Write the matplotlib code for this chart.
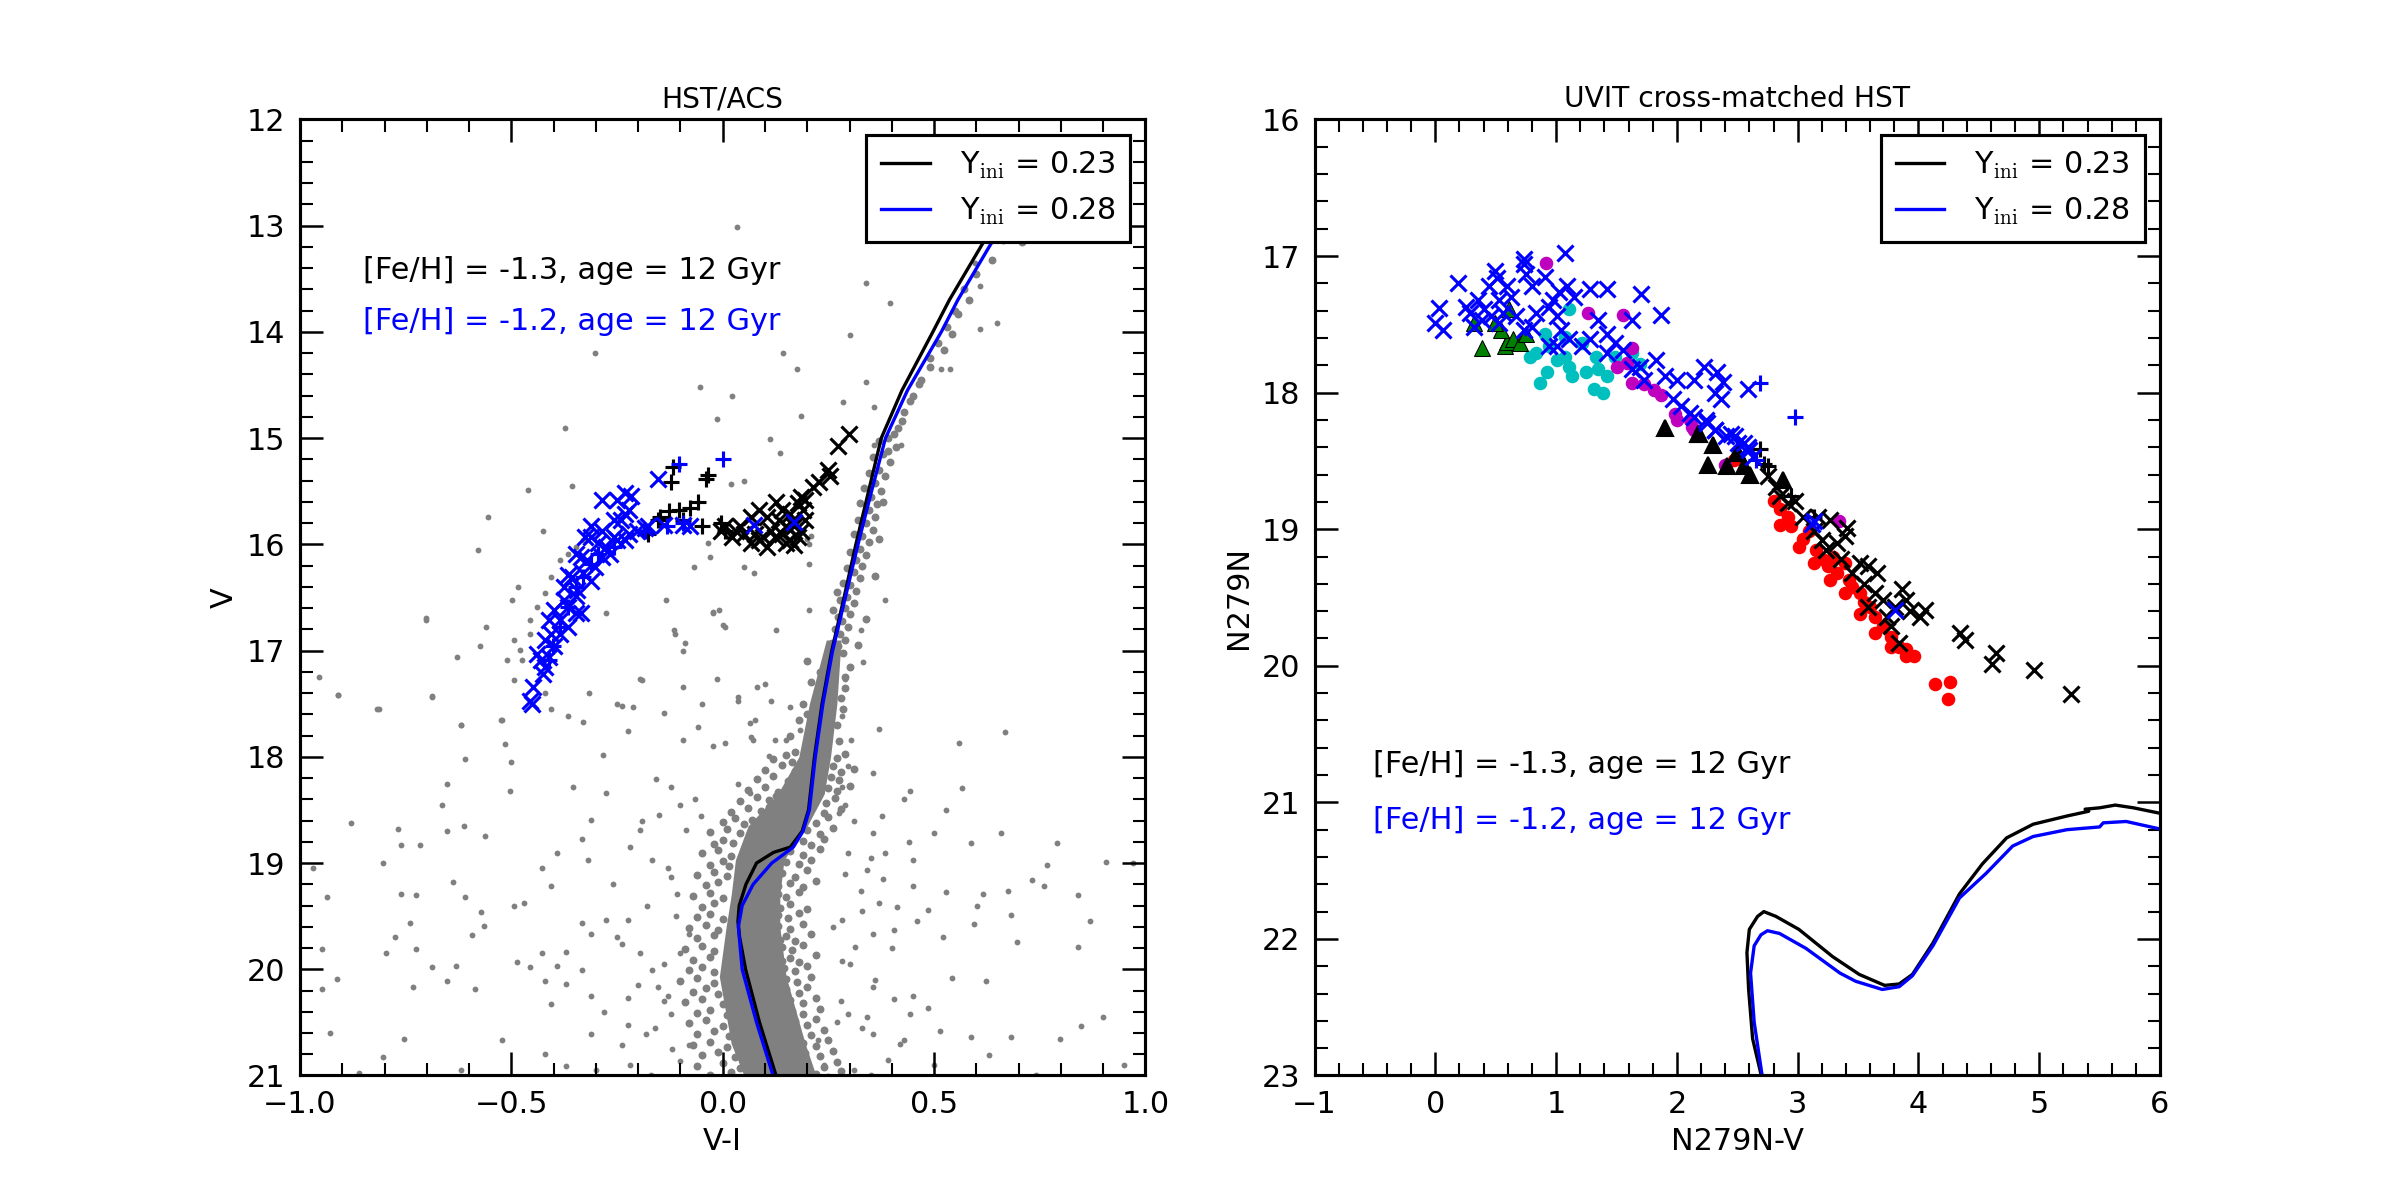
import matplotlib
matplotlib.use('Agg')
import matplotlib.pyplot as plt
import numpy as np

# ---------------- left panel: HST/ACS CMD (V-I, V) ----------------
iso_k_left = [(0.13, 21.05), (0.087, 20.5), (0.054, 20.0), (0.04, 19.7), (0.036, 19.55), (0.039, 19.4),
              (0.055, 19.2), (0.08, 19.0), (0.12, 18.9), (0.16, 18.85), (0.188, 18.7), (0.203, 18.5),
              (0.217, 18.0), (0.235, 17.5), (0.258, 17.0), (0.287, 16.5), (0.315, 16.0), (0.345, 15.5),
              (0.375, 15.0), (0.424, 14.55), (0.497, 14.0), (0.536, 13.7), (0.616, 13.16), (0.68, 12.85),
              (0.75, 12.5)]
iso_b_left = [(0.123, 21.05), (0.08, 20.5), (0.046, 20.0), (0.037, 19.6), (0.046, 19.4), (0.072, 19.2),
              (0.116, 19.0), (0.167, 18.85), (0.19, 18.7), (0.205, 18.5), (0.219, 18.0), (0.237, 17.5),
              (0.26, 17.0), (0.29, 16.5), (0.32, 16.0), (0.352, 15.5), (0.385, 15.0), (0.437, 14.55),
              (0.517, 14.0), (0.556, 13.7), (0.636, 13.16), (0.67, 13.1), (0.75, 12.9)]

# densest part of the cluster sequence (V, blue edge, red edge)
core_v = [16.9, 17.5, 18.0, 18.35, 18.65, 18.97, 19.3, 19.6, 20.07, 20.7, 21.05]
core_lo = [0.245, 0.205, 0.18, 0.13, 0.06, 0.03, 0.02, 0.008, -0.008, 0.02, 0.055]
core_hi = [0.28, 0.27, 0.255, 0.24, 0.2, 0.145, 0.135, 0.135, 0.15, 0.195, 0.225]

field_stars = [
    (-0.703, 16.69), (-0.909, 17.42), (-0.688, 17.43), (-0.819, 17.55), (-0.619, 17.7), (-0.522, 17.65),
    (-0.514, 17.88), (-0.609, 18.02), (-0.5, 18.05), (-0.652, 18.26), (-0.504, 18.32), (-0.665, 18.45),
    (-0.768, 18.68), (-0.613, 18.65), (-0.652, 18.7), (-0.562, 18.75), (-0.761, 18.83), (-0.717, 18.83),
    (-0.804, 19.0), (-0.638, 19.18), (-0.609, 19.32), (-0.761, 19.29), (-0.725, 19.3), (-0.935, 19.32),
    (-0.572, 19.46), (-0.493, 19.4), (-0.739, 19.56), (-0.565, 19.59), (-0.471, 19.38), (-0.406, 19.22),
    (-0.428, 19.05), (-0.391, 18.91), (-0.319, 18.97), (-0.333, 18.77), (-0.275, 18.34), (-0.355, 18.28),
    (-0.312, 18.59), (-0.775, 19.7), (-0.594, 19.68), (-0.797, 19.85), (-0.725, 19.81), (-0.949, 19.81),
    (-0.688, 19.98), (-0.63, 19.97), (-0.913, 20.09), (-0.732, 20.17), (-0.652, 20.11), (-0.949, 20.19),
    (-0.587, 20.19), (-0.486, 19.93), (-0.457, 19.98), (-0.428, 19.85), (-0.391, 19.97), (-0.37, 19.84),
    (-0.42, 20.11), (-0.333, 20.01), (-0.333, 19.56), (-0.275, 19.54), (-0.312, 19.67), (-0.225, 19.54),
    (-0.239, 19.76), (-0.196, 19.85), (-0.167, 20.01), (-0.152, 20.17), (-0.138, 20.3), (-0.225, 20.27),
    (-0.312, 20.25), (-0.37, 20.14), (-0.406, 20.33), (-0.312, 20.61), (-0.522, 20.67), (-0.754, 20.66),
    (-0.804, 20.83), (-0.42, 20.8), (-0.37, 20.91), (-0.239, 20.71), (-0.225, 20.52), (-0.123, 20.42),
    (-0.181, 20.61), (-0.101, 20.86), (-0.08, 20.71), (-0.101, 19.85), (-0.08, 19.67), (-0.109, 19.29),
    (-0.123, 19.13), (-0.167, 18.97), (-0.196, 18.69), (-0.159, 18.21), (-0.123, 18.28), (-0.094, 17.84),
    (-0.022, 17.9), (-0.065, 18.4), (-0.051, 18.56), (-0.087, 18.69), (-0.283, 17.98), (-0.225, 17.76),
    (-0.239, 17.52), (-0.196, 17.27), (-0.014, 17.27), (-0.116, 16.81), (0.0, 16.76), (-0.022, 16.64),
    (0.036, 17.44), (0.065, 17.68), (0.072, 17.84), (0.036, 18.26), (0.109, 17.99), (0.065, 18.34),
    (0.138, 18.4), (0.37, 17.74), (0.667, 17.77), (0.558, 17.87), (0.355, 18.15), (0.442, 18.32),
    (0.565, 18.29), (0.529, 18.5), (0.428, 18.4), (0.377, 18.56), (0.5, 18.72), (0.659, 18.72),
    (0.587, 18.81), (0.79, 18.81), (0.768, 19.02), (0.906, 18.99), (0.971, 19.0), (0.732, 19.16),
    (0.761, 19.22), (0.841, 19.3), (0.674, 19.26), (0.616, 19.29), (0.529, 19.27), (0.449, 19.22),
    (0.449, 18.97), (0.384, 18.91), (0.37, 19.38), (0.413, 19.41), (0.486, 19.44), (0.601, 19.4),
    (0.681, 19.49), (0.594, 19.57), (0.522, 19.7), (0.406, 19.63), (0.355, 19.67), (0.696, 19.74),
    (0.841, 19.79), (0.623, 20.11), (0.543, 20.08), (0.486, 20.36), (0.355, 20.17), (0.406, 20.28),
    (0.587, 20.64), (0.681, 20.64), (0.797, 20.66), (0.848, 20.53), (0.63, 20.81), (0.428, 20.67),
    (0.355, 20.61), (0.341, 20.45), (0.297, 20.42), (0.442, 20.42), (0.514, 20.58), (0.225, 20.67),
    (0.283, 19.92), (0.312, 19.79), (0.283, 19.54), (0.326, 19.26), (0.341, 19.07), (0.297, 18.91),
    (0.355, 18.72), (0.275, 18.53), (0.283, 18.28), (0.297, 18.09), (0.304, 17.84), (0.283, 17.62),
    (0.333, 17.11), (0.326, 16.81), (0.29, 17.27),
    (0.033, 13.01), (0.34, 13.54), (0.395, 13.73), (-0.302, 14.2), (0.142, 14.2), (0.302, 14.03),
    (0.609, 13.97), (0.649, 13.92), (0.609, 13.57), (0.596, 13.35), (0.175, 14.35), (-0.053, 14.52),
    (0.023, 14.6), (-0.013, 14.82), (-0.373, 14.9), (0.338, 14.47), (0.358, 14.71), (0.517, 14.35),
    (0.537, 14.35), (0.285, 14.66), (0.185, 14.79), (0.113, 15.01), (0.358, 15.06), (0.421, 15.06),
    (-0.357, 15.45), (-0.461, 15.49), (-0.556, 15.74), (-0.425, 15.87), (-0.579, 16.05),
    (0.136, 15.14), (0.019, 15.43), (0.05, 15.4), (-0.036, 15.99), (-0.067, 16.21), (-0.031, 16.12),
    (0.05, 16.21), (0.073, 16.27), (0.204, 16.18), (0.385, 16.52), (-0.022, 16.65), (-0.009, 16.62),
    (0.005, 16.78), (-0.113, 16.84), (-0.09, 16.93), (-0.135, 16.52), (-0.276, 16.65), (-0.484, 16.4),
    (-0.498, 16.52), (-0.561, 16.78), (-0.701, 16.71), (-0.629, 17.06), (-0.574, 16.96), (-0.511, 17.09),
    (-0.493, 17.28), (-0.955, 17.25), (-0.909, 17.42), (-0.814, 17.55), (-0.688, 17.44), (-0.62, 17.7),
    (-0.525, 17.65), (-0.407, 17.55), (-0.366, 17.62), (-0.33, 17.67), (-0.249, 17.5), (-0.212, 17.53),
    (-0.316, 17.4), (-0.42, 17.4), (-0.19, 17.28), (-0.095, 17.0), (0.127, 16.81), (0.204, 16.62),
    (0.082, 17.34), (0.1, 17.31), (0.114, 17.47), (0.159, 17.53), (-0.049, 17.5), (0.037, 17.47),
    (-0.095, 17.34), (-0.14, 17.59), (0.077, 17.65), (0.068, 17.81), (0.123, 17.84), (0.15, 17.84),
    (0.182, 17.75), (-0.058, 17.72), (0.005, 17.87), (-0.88, 18.62), (-0.93, 20.6), (-0.86, 20.98),
    (0.9, 20.45), (0.95, 20.9), (0.74, 21.0), (-0.97, 19.05), (-0.62, 20.95), (0.87, 19.55),
    (-0.493, 16.9), (-0.479, 16.99), (-0.457, 16.71), (-0.439, 16.59), (-0.42, 16.46), (-0.407, 16.31),
    (-0.384, 16.15), (-0.366, 16.09), (-0.348, 16.02), (-0.33, 15.96), (-0.457, 16.84), (-0.475, 17.09),
    (0.2, 15.95), (0.21, 15.92), (0.205, 16.0),
    (-0.15, 18.55), (-0.22, 18.85), (-0.13, 19.05), (-0.18, 19.4), (-0.25, 19.7), (-0.14, 19.95),
    (-0.2, 20.15), (-0.28, 20.4), (-0.16, 20.55), (-0.12, 20.75), (-0.22, 20.9), (-0.3, 20.95),
    (-0.17, 21.0), (-0.11, 19.5), (-0.13, 20.25), (-0.26, 19.2), (-0.19, 18.6), (-0.1, 18.45),
    (0.31, 18.6), (0.35, 18.95), (0.29, 19.1), (0.33, 19.45), (0.4, 19.8), (0.3, 19.95),
    (0.36, 20.1), (0.45, 20.25), (0.28, 20.3), (0.33, 20.55), (0.39, 20.85), (0.31, 20.95),
    (0.42, 20.7), (0.5, 20.9), (0.46, 19.55), (0.38, 19.15), (0.44, 18.8), (0.27, 20.5),
    (0.26, 19.6), (0.29, 18.45), (0.24, 20.9), (0.35, 21.0),
]

# stars hugging the cluster sequence
sequence_stars = [
    (0.636, 13.32), (0.662, 13.13), (0.583, 13.7), (0.556, 13.83), (0.543, 14.02), (0.523, 14.17),
    (0.49, 14.33), (0.464, 14.49), (0.444, 14.65), (0.424, 14.84), (0.404, 14.96), (0.391, 15.12),
    (0.709, 13.15), (0.689, 13.01), (0.6, 13.45), (0.57, 13.6), (0.55, 13.8), (0.53, 13.95),
    (0.51, 14.1), (0.49, 14.25), (0.47, 14.45), (0.45, 14.6), (0.43, 14.75), (0.415, 14.9),
    (0.39, 15.0), (0.41, 15.08), (0.38, 15.15), (0.395, 15.22), (0.37, 15.3), (0.385, 15.36),
    (0.36, 15.42), (0.375, 15.5), (0.35, 15.55), (0.365, 15.62), (0.345, 15.68), (0.36, 15.74),
    (0.34, 15.8), (0.355, 15.86), (0.33, 15.92), (0.345, 15.98), (0.325, 16.04), (0.34, 16.1),
    (0.315, 16.15), (0.33, 16.2), (0.31, 16.26), (0.325, 16.32), (0.3, 16.38), (0.315, 16.44),
    (0.295, 16.5), (0.31, 16.55), (0.29, 16.6), (0.3, 16.66), (0.283, 16.72), (0.296, 16.78),
    (0.278, 16.84), (0.29, 16.9), (0.272, 16.96), (0.285, 17.02), (0.262, 16.62), (0.27, 16.45),
    (0.37, 15.03), (0.355, 15.18), (0.345, 15.33), (0.335, 15.47), (0.325, 15.61), (0.32, 15.77),
    (0.31, 15.9), (0.3, 16.07), (0.295, 16.22), (0.285, 16.36), (0.278, 16.52), (0.272, 16.68),
    (0.265, 16.8), (0.258, 16.93), (0.25, 17.05), (0.38, 15.6), (0.37, 15.95), (0.36, 16.3),
    (0.34, 16.7), (0.32, 16.95),
    (0.2, 17.1), (0.3, 17.15), (0.21, 17.3), (0.29, 17.35), (0.19, 17.5), (0.285, 17.55),
    (0.18, 17.65), (0.27, 17.7), (0.16, 17.8), (0.275, 17.85), (0.17, 17.95), (0.23, 17.2),
    (0.22, 17.45), (0.2, 17.6), (0.29, 17.25), (0.28, 17.45),
    (0.12, 18.02), (0.15, 17.98), (0.165, 18.05), (0.27, 18.01), (0.29, 17.97),
    (0.1, 18.12), (0.14, 18.08), (0.17, 18.13), (0.26, 18.09), (0.28, 18.14), (0.31, 18.11),
    (0.08, 18.21), (0.12, 18.18), (0.155, 18.23), (0.255, 18.19), (0.275, 18.22),
    (0.06, 18.31), (0.1, 18.28), (0.13, 18.33), (0.25, 18.29), (0.27, 18.32), (0.3, 18.27),
    (0.04, 18.42), (0.08, 18.38), (0.11, 18.41), (0.125, 18.37), (0.245, 18.43), (0.265, 18.39),
    (0.02, 18.52), (0.06, 18.48), (0.09, 18.51), (0.11, 18.47), (0.24, 18.53), (0.28, 18.49),
    (0.0, 18.61), (0.03, 18.58), (0.05, 18.63), (0.07, 18.59), (0.22, 18.62), (0.25, 18.57),
    (-0.03, 18.71), (0.01, 18.68), (0.04, 18.72), (0.2, 18.69), (0.23, 18.73), (0.26, 18.67),
    (-0.02, 18.82), (0.0, 18.78), (0.025, 18.81), (0.19, 18.79), (0.21, 18.83), (0.24, 18.77),
    (-0.05, 18.91), (-0.01, 18.88), (0.02, 18.93), (0.16, 18.89), (0.19, 18.92), (0.23, 18.87),
    (-0.03, 19.02), (0.0, 18.98), (0.015, 19.03), (0.15, 18.99), (0.18, 19.01), (0.21, 18.97),
    (-0.06, 19.11), (-0.02, 19.08), (0.01, 19.12), (0.14, 19.09), (0.17, 19.13), (0.2, 19.07),
    (-0.04, 19.21), (-0.01, 19.18), (0.13, 19.22), (0.16, 19.19), (0.19, 19.23), (0.22, 19.17),
    (-0.07, 19.31), (-0.03, 19.28), (0.0, 19.33), (0.13, 19.29), (0.15, 19.32), (0.18, 19.27),
    (-0.05, 19.41), (-0.02, 19.38), (0.135, 19.42), (0.16, 19.39), (0.2, 19.43),
    (-0.06, 19.51), (-0.03, 19.48), (0.0, 19.53), (0.13, 19.49), (0.155, 19.52), (0.18, 19.47),
    (-0.08, 19.61), (-0.04, 19.58), (-0.01, 19.63), (0.13, 19.59), (0.16, 19.62), (0.19, 19.57),
    (-0.06, 19.71), (-0.02, 19.68), (0.135, 19.72), (0.15, 19.69), (0.17, 19.73), (0.21, 19.67),
    (-0.09, 19.81), (-0.05, 19.78), (-0.02, 19.83), (0.14, 19.79), (0.165, 19.82), (0.19, 19.77),
    (-0.07, 19.91), (-0.03, 19.88), (0.14, 19.92), (0.16, 19.89), (0.18, 19.93), (0.22, 19.87),
    (-0.08, 20.01), (-0.05, 19.98), (-0.02, 20.03), (0.145, 19.99), (0.17, 20.02), (0.2, 19.97),
    (-0.1, 20.11), (-0.06, 20.08), (-0.02, 20.13), (0.15, 20.09), (0.175, 20.12), (0.21, 20.07),
    (-0.07, 20.21), (-0.04, 20.18), (-0.01, 20.23), (0.15, 20.19), (0.18, 20.22), (0.2, 20.17),
    (-0.09, 20.31), (-0.05, 20.28), (0.0, 20.33), (0.16, 20.29), (0.19, 20.32), (0.22, 20.27),
    (-0.06, 20.41), (-0.03, 20.38), (0.01, 20.43), (0.165, 20.39), (0.19, 20.42), (0.23, 20.37),
    (-0.08, 20.51), (-0.04, 20.48), (0.0, 20.53), (0.17, 20.49), (0.2, 20.52), (0.22, 20.47),
    (-0.06, 20.61), (-0.02, 20.58), (0.015, 20.63), (0.175, 20.59), (0.21, 20.62), (0.24, 20.57),
    (-0.07, 20.71), (-0.03, 20.68), (0.01, 20.73), (0.19, 20.69), (0.22, 20.72), (0.25, 20.67),
    (-0.05, 20.81), (-0.01, 20.78), (0.03, 20.83), (0.195, 20.79), (0.23, 20.82), (0.26, 20.77),
    (-0.06, 20.91), (0.0, 20.88), (0.04, 20.93), (0.2, 20.89), (0.24, 20.92), (0.27, 20.87),
    (-0.03, 21.0), (0.02, 20.97), (0.05, 21.02), (0.22, 20.99), (0.25, 21.01), (0.28, 20.96),
]

hb_blue_x = [
    (-0.452, 17.5), (-0.457, 17.47), (-0.448, 17.34), (-0.425, 17.22), (-0.42, 17.15), (-0.439, 17.03),
    (-0.41, 17.06), (-0.4, 16.96), (-0.407, 16.84), (-0.384, 16.84), (-0.366, 16.78), (-0.398, 16.62),
    (-0.366, 16.59), (-0.348, 16.65), (-0.335, 16.65), (-0.375, 16.4), (-0.357, 16.31), (-0.344, 16.43),
    (-0.33, 16.27), (-0.312, 16.34), (-0.366, 16.29), (-0.321, 16.15), (-0.303, 16.21), (-0.285, 16.12),
    (-0.335, 16.12), (-0.276, 16.02), (-0.312, 15.93), (-0.325, 15.93), (-0.258, 15.93), (-0.23, 15.96),
    (-0.221, 15.9), (-0.312, 15.83), (-0.285, 15.87), (-0.258, 15.77), (-0.24, 15.77), (-0.23, 15.71),
    (-0.221, 15.68), (-0.285, 15.58), (-0.249, 15.58), (-0.23, 15.52), (-0.217, 15.54), (-0.153, 15.38),
    (-0.203, 15.87), (-0.185, 15.85), (-0.176, 15.83), (-0.14, 15.82), (-0.095, 15.82), (-0.077, 15.83),
    (0.073, 15.82), (0.168, 15.79), (-0.348, 16.09), (-0.294, 15.99), (-0.249, 15.96), (-0.267, 16.09),
    (-0.375, 16.52), (-0.384, 16.71), (-0.41, 16.71), (-0.42, 16.9), (-0.43, 17.09), (-0.348, 16.49),
]
hb_blue_plus = [
    (-0.104, 15.24), (0.0, 15.2), (-0.294, 16.09), (-0.258, 16.02), (-0.185, 15.87), (-0.131, 15.83),
    (-0.095, 15.8), (-0.33, 16.31), (-0.312, 16.18), (-0.348, 16.4), (-0.366, 16.59), (-0.384, 16.78),
    (-0.402, 16.96), (-0.411, 17.09),
]
hb_black_plus = [
    (-0.117, 15.27), (-0.122, 15.41), (-0.04, 15.38), (-0.036, 15.35), (-0.058, 15.6), (-0.077, 15.66),
    (-0.104, 15.68), (-0.126, 15.69), (-0.149, 15.74), (-0.153, 15.77), (-0.176, 15.9), (-0.095, 15.77),
    (-0.05, 15.83), (-0.004, 15.8), (0.005, 15.87),
]
hb_black_x = [
    (0.023, 15.93), (0.041, 15.83), (0.068, 15.74), (0.086, 15.68), (0.105, 15.74), (0.127, 15.6),
    (0.141, 15.68), (0.159, 15.71), (0.177, 15.61), (0.186, 15.55), (0.195, 15.58), (0.19, 15.68),
    (0.086, 15.96), (0.105, 16.02), (0.123, 15.93), (0.141, 15.9), (0.159, 15.96), (0.177, 15.93),
    (0.186, 15.87), (0.195, 15.77), (0.168, 15.83), (0.15, 15.83), (0.132, 15.77), (0.114, 15.87),
    (0.077, 15.9), (0.05, 15.9), (0.032, 15.87), (0.005, 15.83), (-0.004, 15.87), (0.213, 15.46),
    (0.227, 15.41), (0.249, 15.3), (0.254, 15.36), (0.272, 15.07), (0.299, 14.96), (0.15, 15.99),
    (0.168, 16.01), (0.068, 15.99), (0.095, 15.93),
]

# ---------------- right panel: UVIT x HST (N279N-V, N279N) ----------------
iso_k_right = [(2.696, 22.99), (2.627, 22.73), (2.594, 22.37), (2.58, 22.1), (2.6, 21.93), (2.668, 21.835),
               (2.72, 21.8), (2.82, 21.835), (3.01, 21.93), (3.29, 22.13), (3.51, 22.26), (3.72, 22.34),
               (3.84, 22.33), (3.95, 22.26), (4.12, 22.03), (4.34, 21.67), (4.53, 21.45), (4.73, 21.26),
               (4.95, 21.16), (5.23, 21.1), (5.41, 21.065), (5.38, 21.05), (5.5, 21.04), (5.63, 21.02),
               (5.78, 21.04), (6.0, 21.08)]
iso_b_right = [(2.704, 22.99), (2.64, 22.61), (2.61, 22.25), (2.64, 22.05), (2.696, 21.97), (2.75, 21.94),
               (2.85, 21.96), (3.07, 22.07), (3.35, 22.25), (3.48, 22.31), (3.7, 22.37), (3.84, 22.35),
               (3.95, 22.27), (4.12, 22.05), (4.34, 21.7), (4.56, 21.52), (4.78, 21.32), (4.95, 21.25),
               (5.23, 21.2), (5.5, 21.18), (5.53, 21.15), (5.72, 21.14), (6.0, 21.195)]

uv_red = [
    (2.805, 18.79), (2.852, 18.85), (2.852, 18.97), (2.916, 18.91), (2.947, 18.98), (3.042, 19.07),
    (3.09, 19.01), (3.153, 19.15), (3.201, 19.22), (3.248, 19.27), (3.296, 19.2), (3.327, 19.32),
    (3.391, 19.25), (3.423, 19.37), (3.454, 19.42), (3.518, 19.47), (3.549, 19.53), (3.597, 19.57),
    (3.644, 19.64), (3.708, 19.71), (3.771, 19.79), (3.835, 19.86), (3.898, 19.93), (3.961, 19.93),
    (3.898, 19.88), (4.135, 20.13), (4.262, 20.12), (4.246, 20.24), (3.137, 19.25), (3.264, 19.37),
    (3.391, 19.47), (3.518, 19.62), (3.644, 19.76), (3.771, 19.86), (3.011, 19.13), (2.472, 18.49),
    (2.409, 18.54),
]
uv_cyan = [
    (0.785, 17.74), (0.87, 17.93), (0.922, 17.85), (1.008, 17.76), (1.076, 17.74), (1.11, 17.81),
    (1.128, 17.88), (1.248, 17.85), (1.316, 17.97), (1.385, 18.0), (1.334, 17.74), (1.351, 17.83),
    (1.42, 17.88), (1.214, 17.64), (1.11, 17.39), (1.076, 17.59), (0.939, 17.66), (1.488, 17.74),
    (1.625, 17.71), (1.694, 17.79), (0.905, 17.57), (0.836, 17.71),
]
uv_magenta = [
    (0.915, 17.05), (1.265, 17.42), (1.557, 17.43), (1.625, 17.67), (1.505, 17.81), (1.59, 17.78),
    (1.625, 17.93), (1.728, 17.94), (1.814, 17.98), (1.866, 18.02), (1.986, 18.16), (2.106, 18.2),
    (2.14, 18.27), (2.397, 18.53), (3.341, 18.94), (1.997, 18.2), (2.123, 18.25),
]
uv_green_tri = [
    (0.39, 17.675), (0.579, 17.66), (0.596, 17.63), (0.647, 17.61), (0.544, 17.54), (0.493, 17.49),
    (0.321, 17.49), (0.699, 17.64), (0.75, 17.57), (0.613, 17.39),
]
uv_black_tri = [
    (1.9, 18.26), (2.174, 18.3), (2.295, 18.38), (2.26, 18.53), (2.415, 18.54), (2.5, 18.44),
    (2.552, 18.54), (2.603, 18.6), (2.878, 18.64), (2.187, 18.3), (2.504, 18.44),
]
uv_black_x = [
    (5.267, 20.21), (4.959, 20.03), (4.611, 19.99), (4.643, 19.91), (4.389, 19.81), (4.342, 19.76),
    (4.056, 19.59), (4.009, 19.64), (3.93, 19.6), (3.866, 19.44), (3.835, 19.83), (3.771, 19.71),
    (3.708, 19.52), (3.66, 19.32), (3.581, 19.27), (3.549, 19.4), (3.644, 19.47), (3.454, 19.32),
    (3.391, 19.05), (3.407, 18.99), (3.327, 19.1), (3.264, 18.93), (3.232, 19.15), (3.169, 18.91),
    (3.137, 19.01), (3.042, 18.91), (2.979, 18.79), (2.916, 18.81), (2.852, 18.76), (2.821, 18.69),
    (2.757, 18.61), (3.74, 19.64), (3.581, 19.57), (3.359, 19.22), (3.201, 19.08), (3.803, 19.57),
    (3.898, 19.52), (3.518, 19.25),
]
uv_black_plus = [(2.689, 18.41), (2.724, 18.52), (2.757, 18.54), (2.947, 18.76), (3.137, 18.91)]
uv_blue_x = [
    (0.03, 17.38), (0.0, 17.49), (0.064, 17.54), (0.184, 17.2), (0.253, 17.37), (0.287, 17.42),
    (0.321, 17.52), (0.356, 17.32), (0.407, 17.39), (0.441, 17.22), (0.493, 17.11), (0.51, 17.16),
    (0.459, 17.44), (0.527, 17.32), (0.562, 17.42), (0.596, 17.22), (0.63, 17.3), (0.665, 17.44),
    (0.733, 17.02), (0.733, 17.06), (0.75, 17.13), (0.802, 17.22), (0.836, 17.42), (0.905, 17.15),
    (0.939, 17.37), (0.973, 17.32), (1.008, 17.44), (1.025, 17.26), (1.07, 16.98), (1.093, 17.22),
    (1.145, 17.3), (1.282, 17.24), (1.419, 17.24), (1.042, 17.54), (1.11, 17.61), (1.008, 17.66),
    (1.282, 17.61), (1.351, 17.47), (1.42, 17.57), (1.488, 17.64), (1.557, 17.69), (1.625, 17.47),
    (1.704, 17.28), (1.866, 17.43), (1.694, 17.81), (1.831, 17.76), (1.9, 17.88), (2.003, 17.91),
    (2.14, 17.91), (2.226, 17.81), (2.329, 17.85), (2.38, 17.92), (2.312, 18.0), (2.363, 18.05),
    (2.586, 17.97), (2.037, 18.1), (2.14, 18.18), (2.243, 18.2), (2.312, 18.27), (2.449, 18.3),
    (2.552, 18.37), (0.802, 17.52), (0.939, 17.66), (1.214, 17.66), (1.42, 17.71), (1.625, 17.83),
    (1.728, 17.91), (0.527, 17.49), (0.39, 17.47), (0.733, 17.54), (1.969, 18.05), (2.106, 18.15),
    (2.484, 18.32), (2.586, 18.4), (2.25, 18.22), (2.314, 18.27), (2.409, 18.32), (2.504, 18.37),
    (2.599, 18.42), (2.63, 18.47), (3.122, 18.96), (3.803, 19.59), (3.135, 18.94),
]
uv_blue_plus = [(2.69, 17.93), (2.981, 18.18), (2.655, 18.49)]

labels_y = [r'Y$_{\rm ini}$ = 0.23', r'Y$_{\rm ini}$ = 0.28']
text_feh = ['[Fe/H] = -1.3, age = 12 Gyr', '[Fe/H] = -1.2, age = 12 Gyr']


def xy(pts):
    a = np.array(pts)
    return a[:, 0], a[:, 1]


plt.rcParams.update({
    'font.family': 'DejaVu Sans',
    'font.size': 14.5,
    'mathtext.fontset': 'cm',
    'axes.linewidth': 1.5,
    'axes.titlesize': 13.5,
    'xtick.direction': 'in', 'ytick.direction': 'in',
    'xtick.top': True, 'ytick.right': True,
    'xtick.major.size': 11, 'ytick.major.size': 11,
    'xtick.minor.size': 6, 'ytick.minor.size': 6,
    'xtick.major.width': 1.2, 'ytick.major.width': 1.2,
    'xtick.minor.width': 1.0, 'ytick.minor.width': 1.0,
    'xtick.major.pad': 7, 'ytick.major.pad': 7,
    'legend.fontsize': 14.5,
})

fig, (ax1, ax2) = plt.subplots(1, 2, figsize=(16, 7.9667), dpi=150)
fig.subplots_adjust(left=0.125, right=0.9, bottom=0.1, top=0.9, wspace=0.2)

mk = dict(linestyle='none')
gray = '#808080'

# left panel
ax1.fill_betweenx(core_v, core_lo, core_hi, color=gray, lw=0, zorder=1)
ax1.plot(*xy(field_stars), 'o', color=gray, ms=2.8, mew=0, zorder=1, **mk)
ax1.plot(*xy(sequence_stars), 'o', color=gray, ms=3.8, mew=0, zorder=1, **mk)
ax1.plot(*xy(iso_k_left), color='k', lw=1.6, label=labels_y[0], zorder=2)
ax1.plot(*xy(iso_b_left), color='b', lw=1.6, label=labels_y[1], zorder=2)
ax1.plot(*xy(hb_black_plus), '+', color='k', ms=7.5, mew=1.5, zorder=3, **mk)
ax1.plot(*xy(hb_black_x), 'x', color='k', ms=7.5, mew=1.5, zorder=3, **mk)
ax1.plot(*xy(hb_blue_x), 'x', color='b', ms=7.5, mew=1.5, zorder=3, **mk)
ax1.plot(*xy(hb_blue_plus), '+', color='b', ms=7.5, mew=1.5, zorder=3, **mk)

ax1.text(-0.85, 13.42, text_feh[0], color='k', va='center')
ax1.text(-0.85, 13.9, text_feh[1], color='b', va='center')
ax1.set_xlim(-1.0, 1.0)
ax1.set_ylim(21, 12)
ax1.xaxis.set_major_locator(plt.MultipleLocator(0.5))
ax1.xaxis.set_minor_locator(plt.MultipleLocator(0.1))
ax1.yaxis.set_major_locator(plt.MultipleLocator(1))
ax1.yaxis.set_minor_locator(plt.MultipleLocator(0.2))
ax1.set_xlabel('V-I')
ax1.set_ylabel('V')
ax1.set_title('HST/ACS')

# right panel
ax2.plot(*xy(uv_red), 'o', color='r', mec='r', ms=5.5, zorder=3, **mk)
ax2.plot(*xy(uv_cyan), 'o', color='c', mec='c', ms=5.5, zorder=3, **mk)
ax2.plot(*xy(uv_magenta), 'o', color='m', mec='m', ms=5.5, zorder=3, **mk)
ax2.plot(*xy(uv_green_tri), '^', color='g', mec='k', mew=0.5, ms=7.5, zorder=3, **mk)
ax2.plot(*xy(uv_black_tri), '^', color='k', ms=7.5, zorder=3, **mk)
ax2.plot(*xy(uv_black_x), 'x', color='k', ms=7.5, mew=1.5, zorder=3, **mk)
ax2.plot(*xy(uv_black_plus), '+', color='k', ms=7.5, mew=1.5, zorder=3, **mk)
ax2.plot(*xy(uv_blue_x), 'x', color='b', ms=7.5, mew=1.5, zorder=3, **mk)
ax2.plot(*xy(uv_blue_plus), '+', color='b', ms=7.5, mew=1.5, zorder=3, **mk)
ax2.plot(*xy(iso_k_right), color='k', lw=1.6, label=labels_y[0], zorder=2)
ax2.plot(*xy(iso_b_right), color='b', lw=1.6, label=labels_y[1], zorder=2)

ax2.text(-0.52, 20.72, text_feh[0], color='k', va='center')
ax2.text(-0.52, 21.13, text_feh[1], color='b', va='center')
ax2.set_xlim(-1, 6)
ax2.set_ylim(23, 16)
ax2.xaxis.set_major_locator(plt.MultipleLocator(1))
ax2.xaxis.set_minor_locator(plt.MultipleLocator(0.2))
ax2.yaxis.set_major_locator(plt.MultipleLocator(1))
ax2.yaxis.set_minor_locator(plt.MultipleLocator(0.2))
ax2.set_xlabel('N279N-V')
ax2.set_ylabel('N279N')
ax2.set_title('UVIT cross-matched HST')

for ax in (ax1, ax2):
    leg = ax.legend(loc='upper right', fancybox=False, framealpha=1, edgecolor='k',
                    handlelength=1.6, handletextpad=1.0, borderpad=0.5, labelspacing=0.5)
    leg.get_frame().set_linewidth(1.5)
    leg.set_zorder(10)

fig.savefig('out.png', dpi=150, facecolor='white')
